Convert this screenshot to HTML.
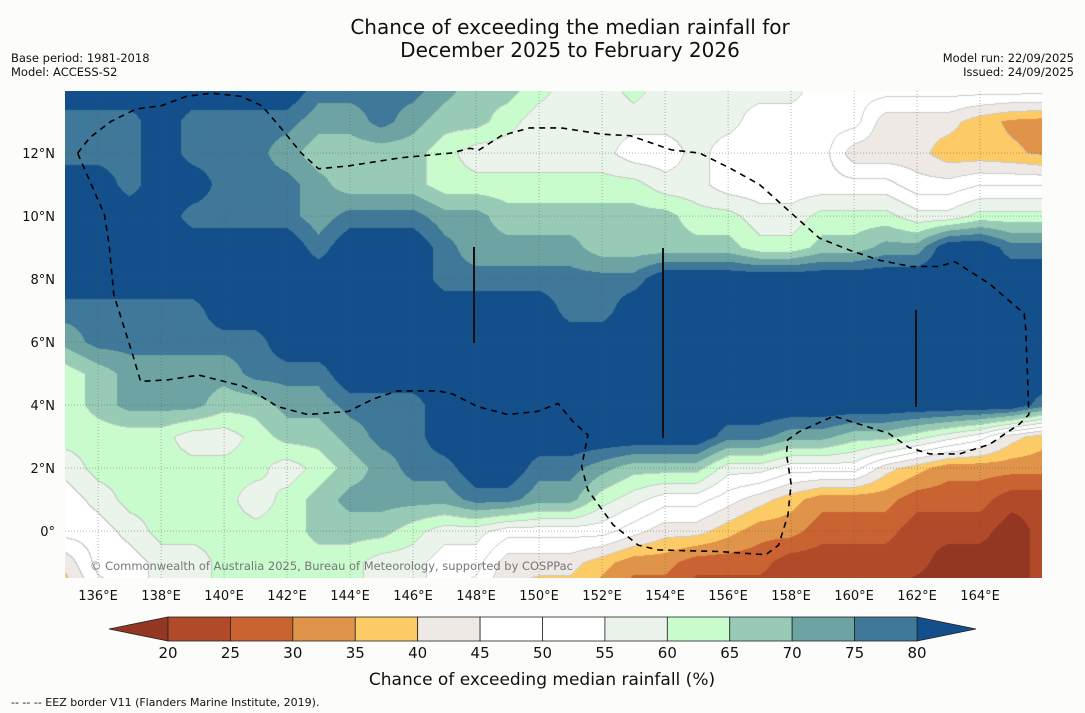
<!DOCTYPE html>
<html><head><meta charset="utf-8">
<style>
html,body{margin:0;padding:0;background:#fcfdfb;}
#wrap{position:relative;width:1085px;height:713px;overflow:hidden;font-family:"DejaVu Sans","Liberation Sans",sans-serif;}
svg{position:absolute;left:0;top:0;}
canvas{position:absolute;left:65px;top:91px;}
</style></head>
<body>
<div id="wrap">
<canvas id="map" width="977" height="487"></canvas>
<svg id="ov" width="1085" height="713">
  <text x="570" y="34" font-size="20" text-anchor="middle" fill="#111">Chance of exceeding the median rainfall for</text>
  <text x="570" y="57" font-size="20" text-anchor="middle" fill="#111">December 2025 to February 2026</text>
  <text x="11" y="62" font-size="11.5" fill="#111">Base period: 1981-2018</text>
  <text x="11" y="76" font-size="11.5" fill="#111">Model: ACCESS-S2</text>
  <text x="1074" y="62" font-size="11.5" text-anchor="end" fill="#111">Model run: 22/09/2025</text>
  <text x="1074" y="76" font-size="11.5" text-anchor="end" fill="#111">Issued: 24/09/2025</text>
  <g id="grid"></g>
  <polyline id="eez" fill="none" stroke="#000" stroke-width="1.6" stroke-dasharray="6,5"/>
  <g>
    <line x1="474" y1="247" x2="474" y2="343" stroke="#111" stroke-width="2"/>
    <line x1="663" y1="248" x2="663" y2="438" stroke="#111" stroke-width="2"/>
    <line x1="916" y1="310" x2="916" y2="407" stroke="#111" stroke-width="2"/>
  </g>
  <text x="90" y="570" font-size="11.5" fill="#777" textLength="483" lengthAdjust="spacingAndGlyphs">© Commonwealth of Australia 2025, Bureau of Meteorology, supported by COSPPac</text>
  <g id="xticks"></g>
  <g id="yticks"></g>
  <g id="cbar"></g>
  <text x="542" y="685" font-size="17" text-anchor="middle" fill="#111">Chance of exceeding median rainfall (%)</text>
  <text x="11" y="706" font-size="11" fill="#111">--  --  -- EEZ border V11 (Flanders Marine Institute, 2019).</text>
</svg>
</div>
<script>
// grid data: longitudes 135..166, rows latitudes 14 .. -2
const lons = [135,136,137,138,139,140,141,142,143,144,145,146,147,148,149,150,151,152,153,154,155,156,157,158,159,160,161,162,163,164,165,166];
const lats = [14,13,12,11,10,9,8,7,6,5,4,3,2,1,0,-1,-2];
const row14 = [85,85,85,85,85,85,85,85,77,77,77,77,72,67,67,62,57,57,62,57,57,57,57,57,52,52,52,52,52,52,52,52];
const row13 = [77,77,77,85,77,77,77,77,72,72,77,72,67,67,62,57,57,57,57,57,57,57,52,52,52,52,42,42,42,37,34,33];
const row12 = [77,77,77,85,77,77,77,72,67,67,67,67,62,57,57,57,57,57,52,52,57,52,52,52,52,42,42,42,37,37,36,34];
const row11 = [85,85,77,85,85,77,77,77,72,67,67,67,62,62,62,62,62,62,62,57,57,52,52,52,52,52,52,47,47,50,50,50];
const row10 = [85,85,85,85,77,77,77,77,72,77,77,77,72,72,67,67,67,67,67,67,62,62,57,57,62,62,62,57,57,62,62,62];
const row9 = [85,85,85,85,85,85,85,85,77,85,85,85,77,72,72,72,72,67,67,67,67,67,62,62,67,67,72,72,85,85,77,77];
const row8 = [85,85,85,85,85,85,85,85,85,85,85,85,77,77,77,77,77,77,77,85,85,85,85,85,85,85,85,85,85,85,85,85];
const row7 = [77,77,77,77,77,85,85,85,85,85,85,85,85,85,85,85,77,77,85,85,85,85,85,85,85,85,85,85,85,85,85,85];
const row6 = [72,77,77,77,77,77,77,85,85,85,85,85,85,85,85,85,85,85,85,85,85,85,85,85,85,85,85,85,85,85,85,85];
const row5 = [62,67,72,72,72,72,77,77,77,85,85,85,85,85,85,85,85,85,85,85,85,85,85,85,85,85,85,85,85,85,85,85];
const row4 = [62,67,72,72,72,67,67,72,72,77,77,77,85,85,85,85,85,85,85,85,85,85,85,85,85,85,85,85,85,85,85,77];
const row3 = [62,62,62,62,57,57,62,67,67,72,77,77,85,85,85,85,85,85,85,85,85,77,77,72,72,67,67,62,57,52,42,37];
const row2 = [57,62,62,62,62,62,62,57,62,67,72,77,77,85,85,77,77,72,67,67,67,57,57,52,52,52,42,37,32,32,32,32];
const row1 = [52,57,62,62,62,62,57,62,67,72,72,72,72,77,77,72,72,62,57,52,52,47,42,37,32,32,32,27,27,27,22,22];
const row0 = [52,52,57,62,62,62,62,62,67,67,67,62,57,57,52,52,52,52,47,42,42,37,32,32,27,27,27,22,22,22,17,22];
const rowM1 = [42,52,52,57,57,62,62,62,62,62,57,57,52,52,42,42,42,37,32,32,27,27,27,22,22,22,22,22,17,17,17,22];
const rowM2 = [37,47,52,57,57,62,62,62,62,62,57,57,52,47,40,37,37,32,27,27,22,22,22,22,22,22,22,17,17,17,17,22];
const rows = [row14,row13,row12,row11,row10,row9,row8,row7,row6,row5,row4,row3,row2,row1,row0,rowM1,rowM2];
const levels = [20,25,30,35,40,45,50,55,60,65,70,75,80];
const cbLabels = ["20","25","30","35","40","45","50","55","60","65","70","75","80"];
const xTickLons = [136,138,140,142,144,146,148,150,152,154,156,158,160,162,164];
const yTickLats = [0,2,4,6,8,10,12];
const eezLonLat = [[135.35,12.0],[135.75,12.5],[136.4,13.0],[137.2,13.4],[138.0,13.5],[138.8,13.8],[139.6,13.9],[140.55,13.8],[141.2,13.5],[141.8,12.8],[142.45,12.0],[143.0,11.5],[144.0,11.6],[145.6,11.85],[147.2,12.0],[147.8,12.15],[148.1,12.1],[148.8,12.55],[149.7,12.8],[150.7,12.8],[152.0,12.6],[152.9,12.55],[154.2,12.1],[155.1,12.0],[156.1,11.5],[157.0,11.0],[158.0,10.1],[158.9,9.3],[159.9,8.9],[160.8,8.6],[161.8,8.4],[162.7,8.4],[163.2,8.55],[164.3,7.85],[165.4,6.9],[165.45,6.4],[165.55,3.7],[165.25,3.4],[164.3,2.75],[163.35,2.45],[162.4,2.45],[161.75,2.65],[161.1,3.1],[160.15,3.4],[159.35,3.65],[158.25,3.15],[157.9,2.9],[157.85,2.45],[158.0,1.5],[157.9,0.5],[157.6,-0.45],[157.2,-0.75],[155.7,-0.65],[153.8,-0.6],[153.15,-0.45],[152.35,0.2],[151.55,1.3],[151.35,2.05],[151.55,3.05],[151.05,3.5],[150.6,4.05],[149.95,3.8],[149.0,3.7],[148.05,3.95],[147.25,4.35],[146.8,4.45],[145.5,4.45],[144.75,4.2],[143.95,3.8],[142.65,3.7],[141.7,3.95],[140.9,4.45],[140.6,4.6],[139.2,4.95],[138.2,4.8],[137.35,4.75],[137.1,5.6],[136.5,7.5],[136.35,9.1],[136.2,10.05],[135.35,12.0]];

const X0 = 65, Y0 = 91, PPD = 31.5, LON0 = 134.95, LAT0 = 13.97;
function xScale(lon){ return X0 + (lon - LON0) * PPD; }
function yScale(lat){ return Y0 + (LAT0 - lat) * PPD; }
const colors = ["#943722","#b04a28","#c96331","#e0944a","#fdcb66","#efe9e6","#ffffff","#ffffff","#eaf4ea","#c9fccc","#97cbb5","#6da3a3","#3f7898","#134f8a"];
function binOf(v){ let i=0; while(i<levels.length && v>=levels[i]) i++; return i; }

// map raster
(function(){
  const cv = document.getElementById('map'); const ctx = cv.getContext('2d');
  const W = cv.width, H = cv.height; const img = ctx.createImageData(W,H);
  const rgb = colors.map(c=>[parseInt(c.substr(1,2),16),parseInt(c.substr(3,2),16),parseInt(c.substr(5,2),16)]);
  const binsGrid = [];
  for(let py=0;py<H;py++){
    const lat = LAT0 - (py+0.5)/PPD;
    let fr = (lats[0]-lat); let r0 = Math.min(Math.floor(fr), lats.length-2); let ty = fr - r0;
    const rowB = [];
    for(let px=0;px<W;px++){
      const lon = LON0 + (px+0.5)/PPD;
      let fc = lon - lons[0]; let c0 = Math.max(0,Math.min(Math.floor(fc), lons.length-2)); let tx = fc - c0;
      const a=rows[r0][c0], b=rows[r0][c0+1], c=rows[r0+1][c0], d=rows[r0+1][c0+1];
      const v = (a*(1-tx)+b*tx)*(1-ty) + (c*(1-tx)+d*tx)*ty;
      const k = binOf(v); rowB.push(k);
      const o=(py*W+px)*4; img.data[o]=rgb[k][0]; img.data[o+1]=rgb[k][1]; img.data[o+2]=rgb[k][2]; img.data[o+3]=255;
    }
    binsGrid.push(rowB);
  }
  // thin contour lines between light bins
  for(let py=1;py<H;py++){ for(let px=1;px<W;px++){
    const k=binsGrid[py][px];
    if((k!==binsGrid[py][px-1] || k!==binsGrid[py-1][px]) && k>=4 && k<=9){
      const o=(py*W+px)*4; img.data[o]=200; img.data[o+1]=204; img.data[o+2]=200;
    }
  }}
  ctx.putImageData(img,0,0);
})();

const NS='http://www.w3.org/2000/svg';
function mk(tag, attrs, parent){ const e=document.createElementNS(NS,tag); for(const k in attrs) e.setAttribute(k,attrs[k]); parent.appendChild(e); return e; }

// graticule + ticks
const grid=document.getElementById('grid'), xt=document.getElementById('xticks'), yt=document.getElementById('yticks');
xTickLons.forEach(function(lon){
  const x=xScale(lon);
  const ln=mk('line',{x1:x,y1:91,x2:x,y2:578,stroke:'#555','stroke-width':0.6,'stroke-dasharray':'1,2','stroke-opacity':0.7},grid);
  
  
  const t=mk('text',{x:x,y:600,'font-size':13,'text-anchor':'middle',fill:'#111'},xt);
  t.textContent=lon+'°E';
  
  
});
yTickLats.forEach(function(lat){
  const y=yScale(lat);
  const ln=mk('line',{x1:65,y1:y,x2:1042,y2:y,stroke:'#555','stroke-width':0.6,'stroke-dasharray':'1,2','stroke-opacity':0.7},grid);
  
  
  const t=mk('text',{x:55,y:y+5,'font-size':13,'text-anchor':'end',fill:'#111'},yt);
  t.textContent= lat===0 ? '0°' : lat+'°N';
  
  
});

// EEZ
document.getElementById('eez').setAttribute('points', eezLonLat.map(p=>xScale(p[0]).toFixed(1)+','+yScale(p[1]).toFixed(1)).join(' '));

// colorbar
(function(){
  const cb=document.getElementById('cbar');
  const L=168, R=917, T=617, B=641;
  function cx(v){ return L + (v-levels[0])/(levels[levels.length-1]-levels[0])*(R-L); }
  const lt=mk('polygon',{points:(L)+','+T+' '+(L)+','+B+' 109,629',fill:colors[0],stroke:'#222','stroke-width':0.8},cb);
  
  
  const rt=mk('polygon',{points:(R)+','+T+' '+(R)+','+B+' 976,629',fill:colors[13],stroke:'#222','stroke-width':0.8},cb);
  
  
  for(let i=0;i<levels.length-1;i++){
    const r=mk('rect',{x:cx(levels[i]),y:T,width:cx(levels[i+1])-cx(levels[i]),height:B-T,fill:colors[i+1],stroke:'#222','stroke-width':0.8},cb);
    
    
  }
  levels.forEach(function(v,i){
    const t=mk('text',{x:cx(v),y:658,'font-size':15,'text-anchor':'middle',fill:'#111'},cb);
    t.textContent=cbLabels[i];
    
    
  });
})();
</script>
</body></html>
